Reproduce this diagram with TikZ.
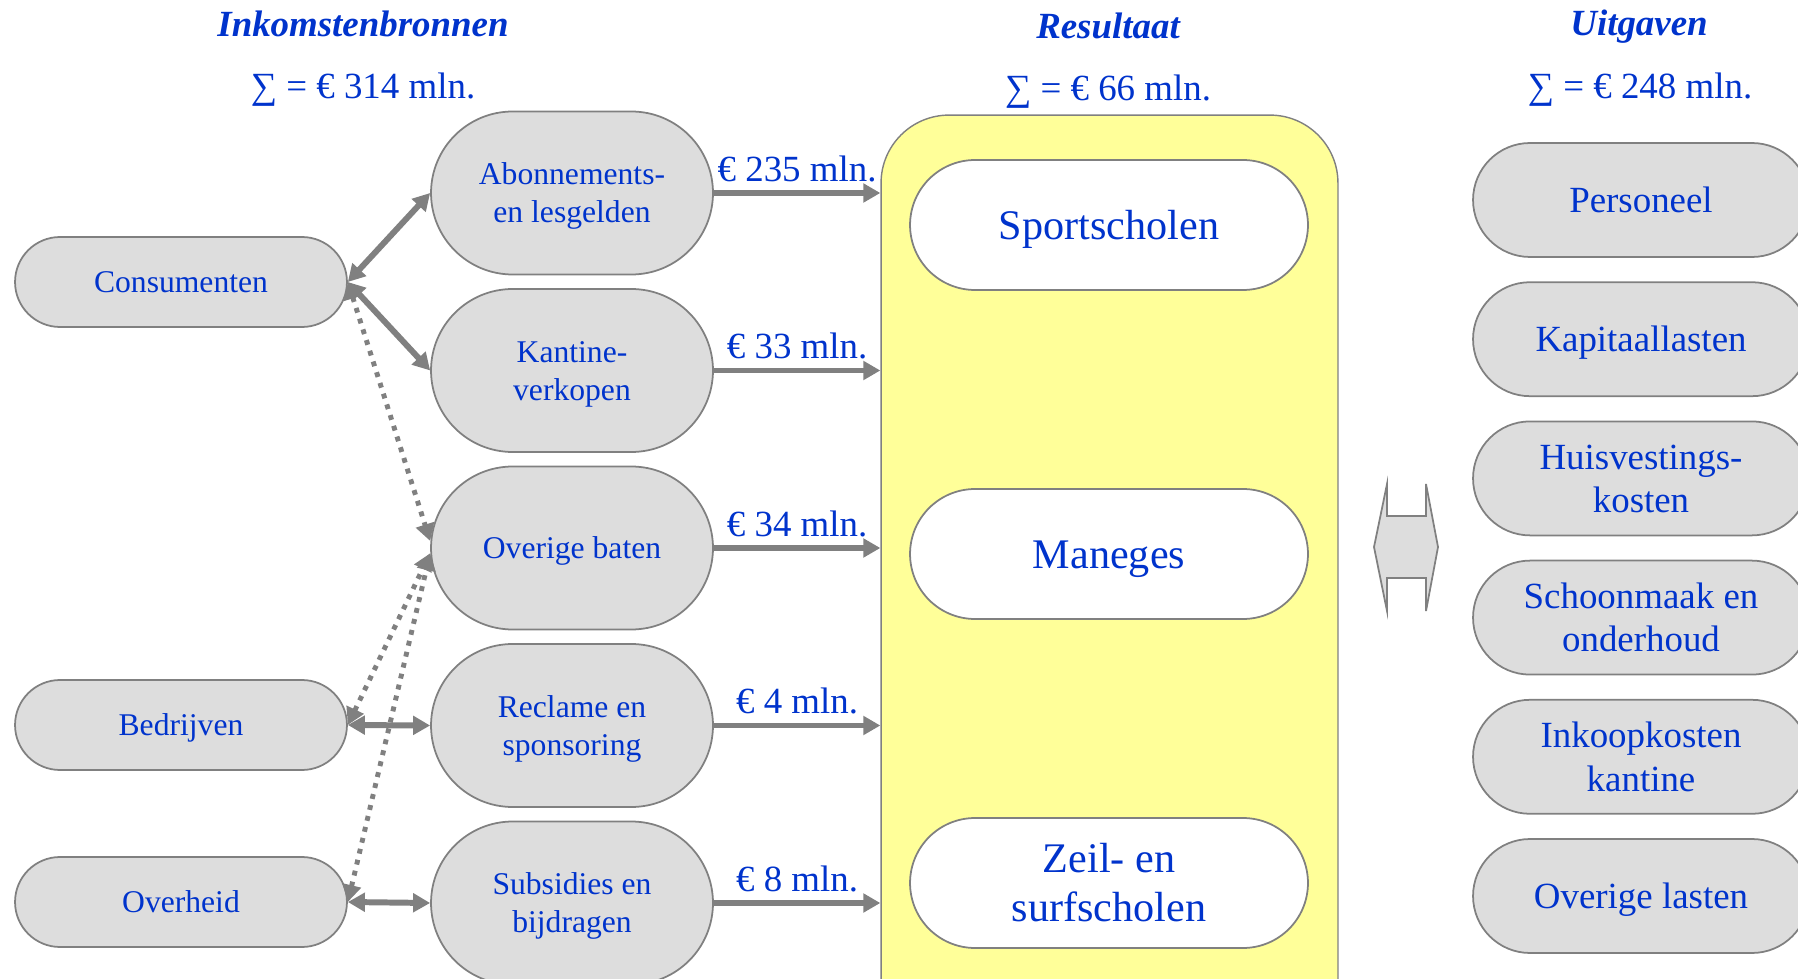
\documentclass[tikz,border=0pt]{standalone}
\usepackage{fontspec}
\setmainfont{Liberation Serif}
\usetikzlibrary{arrows.meta,shapes.misc}
\definecolor{TekstBlauw}{HTML}{0033CC}
\definecolor{OvaalGrijs}{HTML}{DDDDDD}
\definecolor{RandGrijs}{HTML}{808080}
\definecolor{GeelVlak}{HTML}{FFFF99}
\newcommand{\regelsteun}{\rule[-0.216em]{0pt}{1.107em}}

\begin{document}
\begin{tikzpicture}[x=0.02cm, y=-0.02cm,
    >={Triangle[length=9.7pt,width=10.4pt]},
    ovaal/.style={rounded rectangle, draw=RandGrijs, line width=1pt, fill=OvaalGrijs,
        text=TekstBlauw, align=center, inner sep=0pt},
    bron/.style={ovaal, minimum width=6.64cm, minimum height=1.8cm, font=\fontsize{18}{21.6}\selectfont},
    post/.style={ovaal, minimum width=5.64cm, minimum height=3.26cm, font=\fontsize{18}{21.6}\selectfont},
    kosten/.style={ovaal, minimum width=6.72cm, minimum height=2.28cm, font=\fontsize{21}{24.8}\selectfont},
    sector/.style={ovaal, fill=white, minimum width=7.96cm, minimum height=2.6cm, font=\fontsize{24}{28}\selectfont},
    kop/.style={text=TekstBlauw, anchor=base, inner sep=0pt, font=\fontsize{21}{25}\selectfont\bfseries\itshape},
    som/.style={text=TekstBlauw, anchor=base, inner sep=0pt, font=\fontsize{21}{25}\selectfont},
    bedrag/.style={text=TekstBlauw, inner sep=0pt, font=\fontsize{21}{25}\selectfont},
    pijl/.style={draw=RandGrijs, line width=3.4pt, <->},
    pijlin/.style={draw=RandGrijs, line width=3.4pt, ->},
    stip/.style={draw=RandGrijs, line width=2.8pt, dash pattern=on 2.8pt off 3.6pt, <->}]
    \useasboundingbox (0,0) rectangle (1798,979);
    \clip (0,0) rectangle (1798,979);

    \node[kop] (kopIn) at (363,37) {Inkomstenbronnen};
    \node[kop] (kopRes) at (1108,39) {Resultaat};
    \node[kop] (kopUit) at (1639,36) {Uitgaven};
    \node[som] (somIn) at (363,99) {∑ = € 314 mln.};
    \node[som] (somRes) at (1108,101) {∑ = € 66 mln.};
    \node[som] (somUit) at (1640,99) {∑ = € 248 mln.};

    \foreach \naam/\tekst/\y in {cons/Consumenten/282, bedr/Bedrijven/725, ovh/Overheid/902}
        \node[bron] (\naam) at (181,\y) {\regelsteun\tekst\regelsteun};

    \foreach \tekst [count=\i] in {{Abonnements-\\en lesgelden}, {Kantine-\\verkopen}, {Overige baten},
            {Reclame en\\sponsoring}, {Subsidies en\\bijdragen}}
        \node[post] (m\i) at (572,{193+177.5*(\i-1)}) {\regelsteun\tekst\regelsteun};

    \node[draw=RandGrijs, line width=0.8pt, fill=GeelVlak, rounded corners=1.36cm,
        minimum width=9.14cm, minimum height=18.9cm] (res) at (1109.5,587.5) {};
    \foreach \naam/\tekst/\y in {sport/Sportscholen/225, manege/Maneges/554, zeil/{Zeil- en\\surfscholen}/883}
        \node[sector] (\naam) at (1109,\y) {\regelsteun\tekst\regelsteun};

    \foreach \tekst [count=\i] in {Personeel, Kapitaallasten, {Huisvestings-\\kosten},
            {Schoonmaak en\\onderhoud}, {Inkoopkosten\\kantine}, Overige lasten}
        \node[kosten] (k\i) at (1641,{200+139.2*(\i-1)}) {\regelsteun\tekst\regelsteun};

    \draw[draw=RandGrijs, fill=OvaalGrijs, line width=1pt] (1387,484) -- (1387,516) -- (1426,516)
        -- (1426,484) -- (1438,547) -- (1426,611) -- (1426,578) -- (1387,578) -- (1387,611)
        -- (1374,547) -- cycle;

    \draw[pijl] (cons.east) -- (m1.west);
    \draw[pijl] (cons.east) -- (m2.west);
    \draw[stip] (cons.east) -- ([yshift=4pt]m3.west);
    \draw[stip] (bedr.east) -- ([yshift=-3pt]m3.west);
    \draw[stip] (ovh.east) -- ([yshift=-3pt]m3.west);
    \draw[pijl] (bedr.east) -- (m4.west);
    \draw[pijl] (ovh.east) -- (m5.west);

    \foreach \som [count=\i] in {235, 33, 34, 4, 8}
        \draw[pijlin] (m\i.east) -- (m\i.east -| res.west)
            node[bedrag, midway, above=4.8pt] (l\i) {€ \som\ mln.};
\end{tikzpicture}
\end{document}
